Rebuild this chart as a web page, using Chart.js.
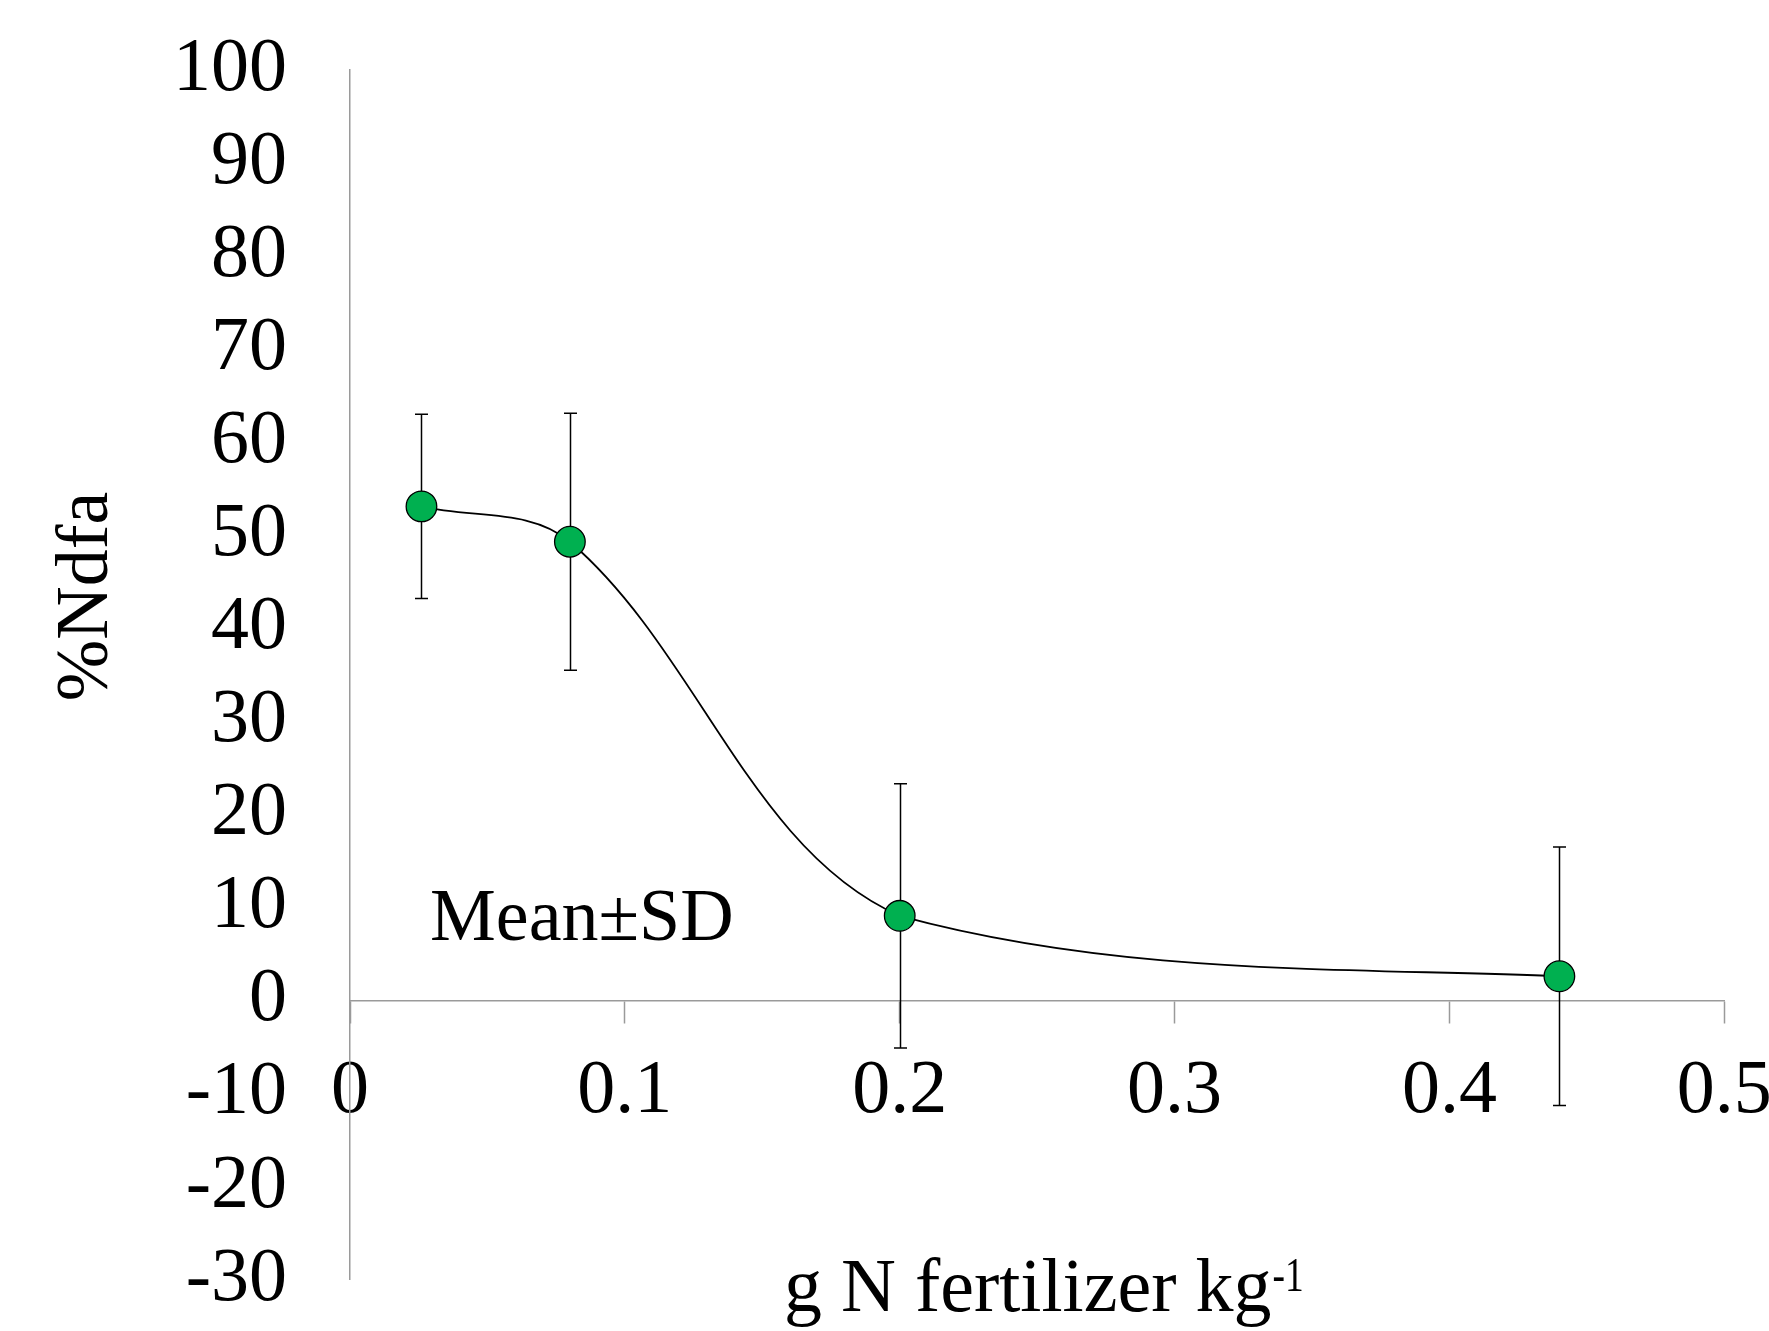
<!DOCTYPE html>
<html>
<head>
<meta charset="utf-8">
<script src="https://cdn.jsdelivr.net/npm/chart.js@4.4.1/dist/chart.umd.min.js"></script>
<style>
  html, body { margin: 0; padding: 0; background: #ffffff; }
  #c { display: block; }
</style>
</head>
<body>
<canvas id="c" width="1769" height="1331"></canvas>
<script>
// ---- data ----
const nFertilizer = [0.026, 0.08, 0.2, 0.44];      // g N fertilizer kg-1
const ndfaMean    = [53.1, 49.3, 9.1, 2.6];        // %Ndfa
const ndfaSD      = [9.9, 13.8, 14.2, 13.9];       // standard deviation
const xTickLabels = ['0', '0.1', '0.2', '0.3', '0.4', '0.5'];
const yTickLabels = ['-30', '-20', '-10', '0', '10', '20', '30', '40', '50', '60', '70', '80', '90', '100'];
const yAxisTitle  = '%Ndfa';
const xAxisTitle  = 'g N fertilizer kg';
const xAxisTitleSup = '-1';
const noteText    = 'Mean\u00B1SD';

const points = nFertilizer.map((x, i) => ({ x: x, y: ndfaMean[i] }));

const FONT = 'Liberation Serif';
const AXIS_GREY = '#9a9a9a';
const HIDDEN = 'rgba(0,0,0,0)';

const errorBars = {
  id: 'errorBars',
  beforeDatasetsDraw(chart) {
    const ctx = chart.ctx, xs = chart.scales.x, ys = chart.scales.y;
    ctx.save();
    ctx.strokeStyle = '#000';
    ctx.lineWidth = 1.5;
    const cap = 6.5;
    for (let i = 0; i < nFertilizer.length; i++) {
      const px = Math.round(xs.getPixelForValue(nFertilizer[i])) + 0.5;
      const top = ys.getPixelForValue(ndfaMean[i] + ndfaSD[i]);
      const bot = ys.getPixelForValue(ndfaMean[i] - ndfaSD[i]);
      ctx.beginPath();
      ctx.moveTo(px, top); ctx.lineTo(px, bot);
      ctx.moveTo(px - cap, top); ctx.lineTo(px + cap, top);
      ctx.moveTo(px - cap, bot); ctx.lineTo(px + cap, bot);
      ctx.stroke();
    }
    ctx.restore();
  }
};

const texts = {
  id: 'texts',
  afterDraw(chart) {
    const ctx = chart.ctx;
    ctx.save();
    ctx.fillStyle = '#000';
    // y axis title (rotated)
    ctx.save();
    ctx.font = '74px "' + FONT + '"';
    ctx.translate(106.5, 596.5);
    ctx.rotate(-Math.PI / 2);
    ctx.textAlign = 'center';
    ctx.textBaseline = 'alphabetic';
    ctx.fillText(yAxisTitle, 0, 0);
    ctx.restore();

    // note inside plot
    ctx.font = '74px "' + FONT + '"';
    ctx.textAlign = 'left';
    ctx.textBaseline = 'alphabetic';
    ctx.fillText(noteText, 430, 940);

    // x axis title with superscript
    ctx.font = '76px "' + FONT + '"';
    const x0 = 784, base = 1311;
    ctx.fillText(xAxisTitle, x0, base);
    const w = ctx.measureText(xAxisTitle).width;
    ctx.save();
    ctx.font = '48px "' + FONT + '"';
    ctx.translate(x0 + w + 1, base - 20);
    ctx.scale(0.78, 1);
    ctx.fillText(xAxisTitleSup, 0, 0);
    ctx.restore();
    ctx.restore();
  }
};

// smoothed connecting line, one visible segment per dataset
function linePart(segIndex, opts) {
  return Object.assign({
    data: points,
    showLine: true,
    borderColor: '#000',
    borderWidth: 1.8,
    pointRadius: 0,
    segment: { borderColor: c => (c.p0DataIndex === segIndex ? '#000' : HIDDEN) },
    order: 1
  }, opts);
}

new Chart(document.getElementById('c'), {
  type: 'scatter',
  data: {
    datasets: [
      {
        data: points,
        showLine: false,
        pointRadius: 15.3,
        pointBackgroundColor: '#00B050',
        pointBorderColor: '#000',
        pointBorderWidth: 1.3,
        order: 0
      },
      linePart(0, { tension: 0.35 }),
      linePart(1, { tension: 0.35 }),
      linePart(2, { tension: 0.4, cubicInterpolationMode: 'monotone' })
    ]
  },
  options: {
    responsive: false,
    animation: false,
    events: [],
    devicePixelRatio: 1,
    layout: { padding: { left: 0, top: 70, right: 44.7, bottom: 51.4 } },
    plugins: { legend: { display: false }, tooltip: { enabled: false } },
    scales: {
      x: {
        type: 'linear',
        position: { y: 0 },
        min: 0, max: 0.5,
        ticks: {
          stepSize: 0.1,
          autoSkip: false,
          color: '#000',
          font: { family: FONT, size: 76 },
          padding: 24,
          maxRotation: 0,
          callback: (v, i) => xTickLabels[i]
        },
        grid: { drawOnChartArea: false, drawTicks: true, tickLength: 22, tickColor: AXIS_GREY, tickWidth: 1.5 },
        border: { display: true, color: AXIS_GREY, width: 1.5 },
        afterFit: s => { s.height = 0; s.paddingLeft = 0; s.paddingRight = 0; s.paddingTop = 0; s.paddingBottom = 0; }
      },
      y: {
        type: 'linear',
        position: 'left',
        min: -30, max: 100,
        ticks: {
          stepSize: 10,
          autoSkip: false,
          color: '#000',
          font: { family: FONT, size: 76 },
          padding: 63,
          callback: (v, i) => yTickLabels[i]
        },
        grid: { display: false, drawTicks: false },
        border: { display: true, color: AXIS_GREY, width: 1.5 },
        afterFit: s => { s.width = 350; s.paddingTop = 0; s.paddingBottom = 0; s.paddingLeft = 0; s.paddingRight = 0; }
      }
    }
  },
  plugins: [errorBars, texts]
});
</script>
</body>
</html>
